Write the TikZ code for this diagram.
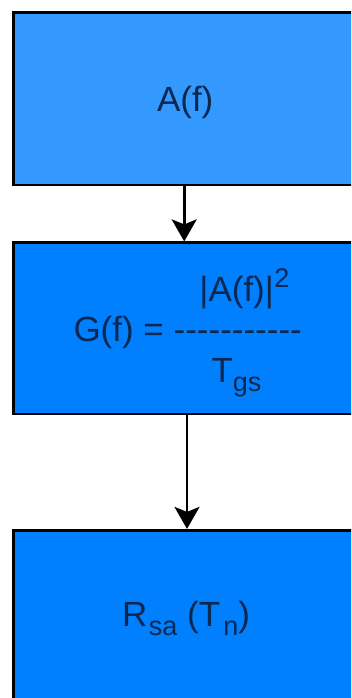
\documentclass[tikz,border=0pt]{standalone}
\usepackage{fontspec}
\newfontfamily\arl{Liberation Sans}
\usetikzlibrary{arrows.meta}
\definecolor{boxA}{RGB}{51,153,255}
\definecolor{boxB}{RGB}{0,128,255}
\definecolor{txt}{RGB}{12,40,78}
\newcommand{\mainsz}{\fontsize{35}{40}\selectfont}
\newcommand{\smallsz}{\fontsize{27}{30}\selectfont}
\newcommand{\lowr}[1]{\raisebox{-9pt}{\smallsz #1}}
\newcommand{\highr}[1]{\raisebox{14pt}{\smallsz #1}}
\begin{document}
\begin{tikzpicture}[x=1pt,y=-1pt,
  box/.style={draw=black, line width=2.8pt, minimum width=343.2pt, inner sep=0pt, outer sep=0pt},
  lbl/.style={anchor=base west, inner sep=0pt, outer sep=0pt, text=txt, font=\arl\mainsz},
  conn/.style={draw=black, line width=2.7pt, -{Stealth[length=22pt,width=25pt,inset=5pt]}}]
\useasboundingbox (0,0) rectangle (351,698);
\clip (0,0) rectangle (351,698);
\node[box, fill=boxA, minimum height=172.3pt] (b1) at (185.4,98.85) {};
\node[box, fill=boxB, minimum height=171.2pt] (b2) at (185.4,328.4) {};
\node[box, fill=boxB, minimum height=172pt] (b3) at (185.4,616.3) {};
\coordinate (c1) at (184.2,0);
\coordinate (c2) at (187,0);
\draw[conn, shorten >=1.4pt] (b1.south -| c1) -- (b2.north -| c1);
\draw[conn, shorten >=1.4pt] (b2.south -| c2) -- (b3.north -| c2);
\node[lbl] (t1) at (157,111.7) {A(f)};
\node[lbl] (t2) at (73.5,341.5) {G(f) = -----------};
\node[lbl] (t3) at (199.4,301) {|A(f)|\kern0.5pt\highr{2}};
\node[lbl] (t4) at (211.5,382) {T\lowr{gs}};
\node[lbl] (t5) at (122.2,626) {R\kern1.5pt\lowr{sa} (T\kern3pt\lowr{n})};
\end{tikzpicture}
\end{document}
